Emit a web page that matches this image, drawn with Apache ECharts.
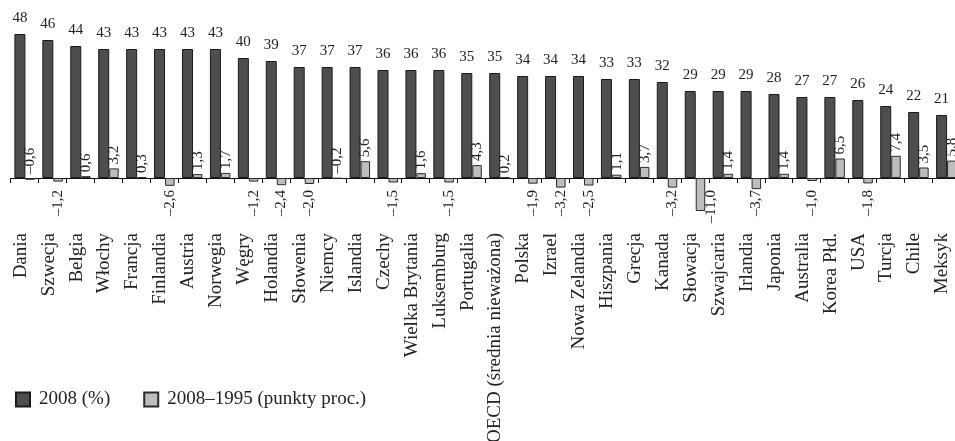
<!DOCTYPE html>
<html>
<head>
<meta charset="utf-8">
<script src="https://cdn.jsdelivr.net/npm/echarts@6/dist/echarts.min.js"></script>
<style>
  html, body { margin: 0; padding: 0; background: #fff; }
  #chart { width: 955px; height: 441px; }
</style>
</head>
<body>
<div id="chart"></div>
<script>
// Countries, ordered by their 2008 value
const categories = ['Dania', 'Szwecja', 'Belgia', 'Włochy', 'Francja', 'Finlandia', 'Austria', 'Norwegia',
  'Węgry', 'Holandia', 'Słowenia', 'Niemcy', 'Islandia', 'Czechy', 'Wielka Brytania', 'Luksemburg',
  'Portugalia', 'OECD (średnia nieważona)', 'Polska', 'Izrael', 'Nowa Zelandia', 'Hiszpania', 'Grecja',
  'Kanada', 'Słowacja', 'Szwajcaria', 'Irlandia', 'Japonia', 'Australia', 'Korea Płd.', 'USA', 'Turcja',
  'Chile', 'Meksyk'];

// 2008 level (%)
const level2008 = [48, 46, 44, 43, 43, 43, 43, 43, 40, 39, 37, 37, 37, 36, 36, 36, 35, 35, 34, 34, 34,
  33, 33, 32, 29, 29, 29, 28, 27, 27, 26, 24, 22, 21];

// Change 2008–1995 (percentage points)
const change = [-0.6, -1.2, 0.6, 3.2, 0.3, -2.6, 1.3, 1.7, -1.2, -2.4, -2.0, -0.2, 5.6, -1.5, 1.6, -1.5,
  4.3, 0.2, -1.9, -3.2, -2.5, 1.1, 3.7, -3.2, -11.0, 1.4, -3.7, 1.4, -1.0, 6.5, -1.8, 7.4, 3.5, 5.8];

const seriesNames = ['2008 (%)', '2008–1995 (punkty proc.)'];

const FONT = 'Liberation Serif';
const TEXT = '#222';

const fmtChange = v => (v < 0 ? '–' : '') + Math.abs(v).toFixed(1).replace('.', ',');

// Change bars: labels go above the bar (positive or tiny negatives) or
// in a row just under the axis (larger negatives).
const changeData = change.map(v => {
  let label;
  if (v > -1) {
    label = { position: 'top', distance: 4, align: 'left', verticalAlign: 'middle' };
  } else {
    const longBar = v * -3 > 12;
    label = { position: [longBar ? 15 : '50%', 12], align: 'right', verticalAlign: 'middle' };
  }
  return { value: v, label };
});

const chart = echarts.init(document.getElementById('chart'), null, { renderer: 'canvas' });

chart.setOption({
  animation: false,
  backgroundColor: '#fff',
  grid: { left: 10.7, right: -5.3, top: 28, height: 186, containLabel: false, outerBoundsMode: 'none' },
  legend: {
    left: 15, top: 390, padding: 0,
    itemWidth: 14, itemHeight: 14, itemGap: 33,
    icon: 'rect',
    textStyle: { fontFamily: FONT, fontSize: 19, color: TEXT, padding: [0, 0, 0, 4] },
    data: seriesNames
  },
  xAxis: {
    type: 'category',
    data: categories,
    axisLine: { lineStyle: { color: '#111', width: 1 } },
    axisTick: { show: true, length: 5, lineStyle: { color: '#111' } },
    axisLabel: {
      interval: 0, rotate: 90, margin: 19,
      fontFamily: FONT, fontSize: 19, color: TEXT,
      verticalAlign: 'bottom', lineHeight: 8
    },
    splitLine: { show: false }
  },
  yAxis: {
    type: 'value', min: -12, max: 50, interval: 2,
    show: false
  },
  series: [
    {
      name: seriesNames[0], type: 'bar', data: level2008,
      barWidth: 11, barGap: '0%',
      itemStyle: { color: '#4e4e4e', borderColor: '#1a1a1a', borderWidth: 1 },
      label: {
        show: true, position: 'top', distance: 8,
        fontFamily: FONT, fontSize: 15, color: TEXT
      }
    },
    {
      name: seriesNames[1], type: 'bar', data: changeData,
      barWidth: 9.5, barGap: '0%',
      itemStyle: { color: '#bdbdbd', borderColor: '#2a2a2a', borderWidth: 1 },
      label: {
        show: true, rotate: 90,
        fontFamily: FONT, fontSize: 15, color: TEXT,
        formatter: p => fmtChange(p.value)
      }
    }
  ]
});
</script>
</body>
</html>
